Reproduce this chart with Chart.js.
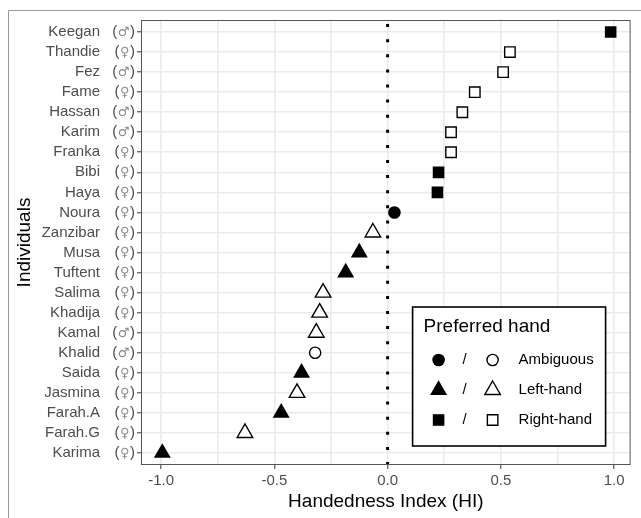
<!DOCTYPE html>
<html><head><meta charset="utf-8">
<script src="https://cdn.jsdelivr.net/npm/chart.js"></script>
<style>html,body{margin:0;padding:0;background:#fff;}canvas{display:block;}</style>
</head><body>
<canvas id="c" width="641" height="518"></canvas>
<script>
// ---- data ----
const individuals = ['Keegan','Thandie','Fez','Fame','Hassan','Karim','Franka','Bibi','Haya','Noura','Zanzibar','Musa','Tuftent','Salima','Khadija','Kamal','Khalid','Saida','Jasmina','Farah.A','Farah.G','Karima'];
const sexes = ['♂','♀','♂','♀','♂','♂','♀','♀','♀','♀','♀','♀','♀','♀','♀','♂','♂','♀','♀','♀','♀','♀'];
const hiValues = [0.985,0.54,0.51,0.385,0.33,0.28,0.28,0.225,0.22,0.03,-0.065,-0.125,-0.185,-0.285,-0.30,-0.315,-0.32,-0.38,-0.40,-0.47,-0.63,-0.995];
const preferredHand = ['Right-hand','Right-hand','Right-hand','Right-hand','Right-hand','Right-hand','Right-hand','Right-hand','Right-hand','Ambiguous','Left-hand','Left-hand','Left-hand','Left-hand','Left-hand','Left-hand','Ambiguous','Left-hand','Left-hand','Left-hand','Left-hand','Left-hand'];
const filledMarker = [true,false,false,false,false,false,false,true,true,true,false,true,true,false,false,false,false,true,false,true,false,true];
const handCategories = ['Ambiguous','Left-hand','Right-hand'];
const xTickValues = [-1,-0.75,-0.5,-0.25,0,0.25,0.5,0.75,1];
const xTickLabels = ['-1.0','','-0.5','','0.0','','0.5','','1.0'];
const xTitle = 'Handedness Index (HI)';
const yTitle = 'Individuals';
const legendTitle = 'Preferred hand';

// ---- styles ----
const FONT = '"Liberation Sans", Arial, Helvetica, sans-serif';
const SYMFONT = '"DejaVu Sans", sans-serif';
const markerStyle = {
  'Ambiguous': {shape:'circle', rFill:6.3, rOpen:5.6},
  'Left-hand': {shape:'triangle', rFill:9.8, rOpen:9.0},
  'Right-hand': {shape:'rect', rFill:8.2, rOpen:7.4}
};

const datasets = [];
handCategories.forEach(h => [true,false].forEach(f => {
  const data = [];
  individuals.forEach((n,i) => {
    if (preferredHand[i] === h && filledMarker[i] === f) data.push({x: hiValues[i], y: i});
  });
  const st = markerStyle[h];
  const r = f ? st.rFill : st.rOpen;
  datasets.push({
    label: h + (f ? ' filled' : ' open'),
    data,
    pointStyle: st.shape,
    pointRadius: r,
    pointHoverRadius: r,
    pointBackgroundColor: f ? '#000' : '#fff',
    pointBorderColor: '#000',
    pointBorderWidth: f ? 0 : 1.4,
    pointHoverBorderWidth: f ? 0 : 1.4
  });
}));

function drawMarker(ctx, shape, r, filled, x, y) {
  ctx.save();
  ctx.fillStyle = filled ? '#000' : '#fff';
  ctx.strokeStyle = '#000';
  ctx.lineWidth = filled ? 0 : 1.4;
  ctx.beginPath();
  if (shape === 'circle') {
    ctx.arc(x, y, r, 0, Math.PI * 2);
  } else if (shape === 'triangle') {
    let rad = 0;
    for (let k = 0; k < 3; k++) {
      const px = x + Math.sin(rad) * r, py = y - Math.cos(rad) * r;
      if (k === 0) ctx.moveTo(px, py); else ctx.lineTo(px, py);
      rad += 2 * Math.PI / 3;
    }
    ctx.closePath();
  } else {
    const s = r * Math.SQRT1_2;
    ctx.rect(x - s, y - s, 2 * s, 2 * s);
  }
  ctx.fill();
  if (!filled) ctx.stroke();
  ctx.restore();
}

const decor = {
  id: 'decor',
  beforeDraw(chart) {
    const ctx = chart.ctx;
    ctx.save();
    ctx.fillStyle = '#fff';
    ctx.fillRect(0, 0, chart.width, chart.height);
    ctx.strokeStyle = '#9a9a9a';
    ctx.lineWidth = 1;
    ctx.beginPath();
    ctx.moveTo(8.5, chart.height);
    ctx.lineTo(8.5, 10.5);
    ctx.lineTo(chart.width, 10.5);
    ctx.stroke();
    ctx.restore();
  },
  beforeDatasetsDraw(chart) {
    const {ctx, chartArea: a, scales: {x, y}} = chart;
    const px = x.getPixelForValue(0);
    ctx.save();
    ctx.strokeStyle = '#000';
    ctx.lineWidth = 3;
    ctx.setLineDash([3, 12.1]);
    ctx.beginPath();
    ctx.moveTo(px, a.bottom);
    ctx.lineTo(px, a.top);
    ctx.stroke();
    ctx.restore();
    ctx.save();
    ctx.strokeStyle = '#555';
    ctx.lineWidth = 1;
    ctx.strokeRect(a.left + 0.5, a.top + 0.5, a.right - a.left - 1, a.bottom - a.top - 1);
    ctx.restore();
    // sex symbols after names: "(♂)" / "(♀)"
    ctx.save();
    ctx.textBaseline = 'middle';
    individuals.forEach((n, i) => {
      const py = y.getPixelForValue(i);
      let xr = a.left - 6;
      ctx.font = '15px ' + FONT;
      ctx.fillStyle = '#4d4d4d';
      ctx.textAlign = 'right';
      ctx.fillText(')', xr, py);
      xr -= ctx.measureText(')').width + 0.5;
      ctx.font = '13px ' + SYMFONT;
      ctx.fillStyle = '#8a8a8a';
      ctx.fillText(sexes[i], xr, py + 0.5);
      xr -= ctx.measureText(sexes[i]).width + 0.5;
      ctx.font = '15px ' + FONT;
      ctx.fillStyle = '#4d4d4d';
      ctx.fillText('(', xr, py);
    });
    ctx.restore();
  }
  ,
  afterDatasetsDraw(chart) {
    const {ctx, chartArea: a} = chart;
    const bx = a.right - 218, by = a.bottom - 158, bw = 193, bh = 139;
    ctx.save();
    ctx.fillStyle = '#fff';
    ctx.fillRect(bx, by, bw, bh);
    ctx.strokeStyle = '#000';
    ctx.lineWidth = 1.6;
    ctx.strokeRect(bx, by, bw, bh);
    ctx.fillStyle = '#000';
    ctx.textBaseline = 'middle';
    ctx.textAlign = 'left';
    ctx.font = '19px ' + FONT;
    ctx.fillText(legendTitle, bx + 11, by + 20);
    ctx.font = '15px ' + FONT;
    handCategories.forEach((h, k) => {
      const yy = by + 53 + k * 30;
      const st = markerStyle[h];
      drawMarker(ctx, st.shape, st.rFill, true, bx + 26, yy);
      ctx.fillStyle = '#000';
      ctx.textAlign = 'center';
      ctx.fillText('/', bx + 52, yy);
      drawMarker(ctx, st.shape, st.rOpen, false, bx + 80, yy);
      ctx.fillStyle = '#000';
      ctx.textAlign = 'left';
      ctx.fillText(h, bx + 106, yy);
    });
    ctx.restore();
  }
};

const gridColor = '#ebebeb';
new Chart(document.getElementById('c'), {
  type: 'scatter',
  data: { datasets },
  plugins: [decor],
  options: {
    responsive: false,
    animation: false,
    events: [],
    layout: { padding: { top: 20, right: 7, left: 0, bottom: 0 } },
    plugins: { legend: { display: false }, tooltip: { enabled: false } },
    scales: {
      x: {
        type: 'linear',
        min: -1.089, max: 1.073,
        afterBuildTicks: s => { s.ticks = xTickValues.map(v => ({value: v})); },
        afterFit: s => { s.height = 53; },
        ticks: {
          autoSkip: false, maxRotation: 0,
          callback: (v) => { const k = xTickValues.indexOf(v); return k >= 0 ? xTickLabels[k] : ''; },
          font: { family: FONT, size: 15 }, color: '#4d4d4d', padding: 3
        },
        grid: {
          color: gridColor, lineWidth: 1.6, tickLength: 4, tickWidth: 1,
          tickColor: ctx => (ctx.tick && xTickLabels[xTickValues.indexOf(ctx.tick.value)]) ? '#333' : 'rgba(0,0,0,0)'
        },
        border: { display: false },
        title: { display: true, text: xTitle, font: { family: FONT, size: 19 }, color: '#000', padding: { top: 0, bottom: 5 } }
      },
      y: {
        type: 'linear',
        reverse: true,
        min: -0.6, max: individuals.length - 1 + 0.6,
        afterBuildTicks: s => { s.ticks = individuals.map((_, i) => ({value: i})); },
        afterFit: s => { s.width = 141; s.paddingTop = 0; s.paddingBottom = 0; },
        ticks: {
          autoSkip: false,
          callback: (v) => individuals[v],
          font: { family: FONT, size: 15 }, color: '#4d4d4d', padding: 37
        },
        grid: { color: gridColor, lineWidth: 1.6, tickLength: 4, tickWidth: 1, tickColor: '#333' },
        border: { display: false },
        title: { display: true, text: yTitle, font: { family: FONT, size: 19 }, color: '#000', padding: { top: 13.6, bottom: 0 } }
      }
    }
  }
});
</script>
</body></html>
